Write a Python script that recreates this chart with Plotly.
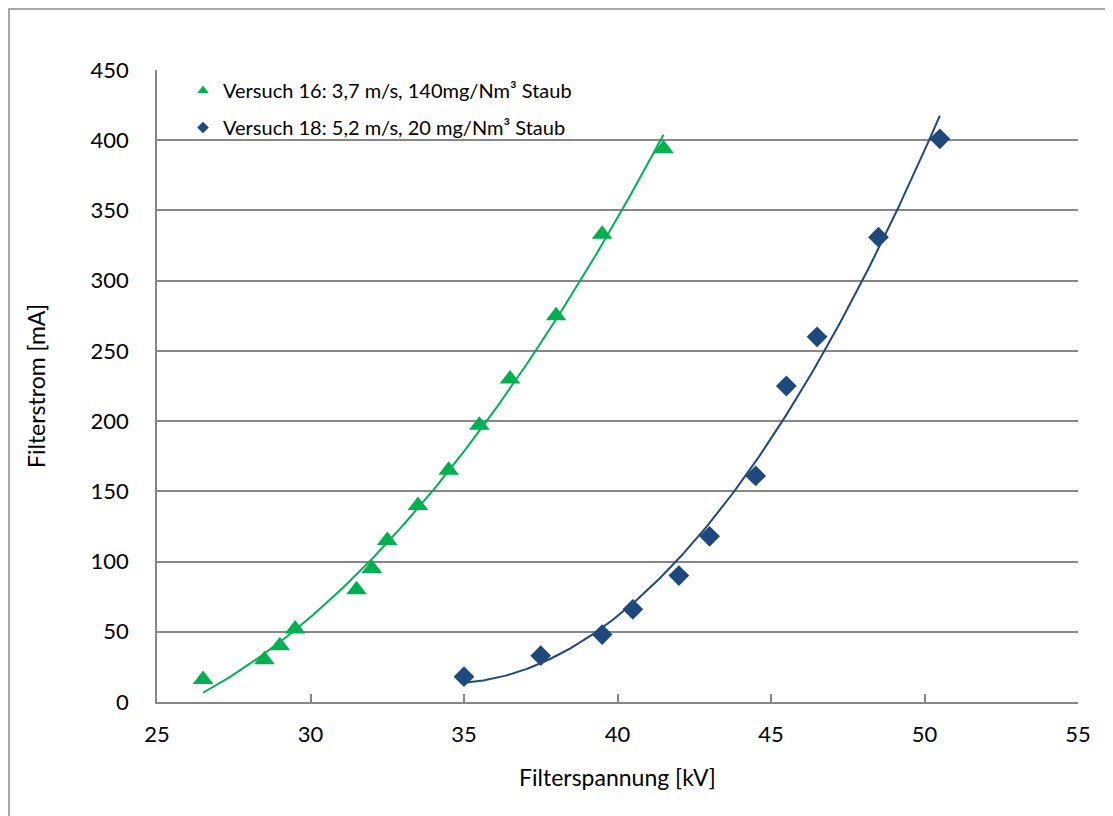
import numpy as np
import plotly.graph_objects as go

# Versuch 16
v16_kv = [26.5, 28.5, 29.0, 29.5, 31.5, 32.0, 32.5, 33.5, 34.5, 35.5, 36.5, 38.0, 39.5, 41.5]
v16_ma = [16, 30, 40, 52, 80, 95, 115, 140, 165, 197, 230, 275, 333, 394]
# Versuch 18
v18_kv = [35.0, 37.5, 39.5, 40.5, 42.0, 43.0, 44.5, 45.5, 46.5, 48.5, 50.5]
v18_ma = [18, 33, 48, 66, 90, 118, 161, 225, 260, 331, 401]

name16 = "Versuch 16: 3,7 m/s, 140mg/Nm³ Staub"
name18 = "Versuch 18: 5,2 m/s, 20 mg/Nm³ Staub"
green = "#00B050"
blue = "#1F497D"
FONT = "Lato, 'Open Sans', sans-serif"

W, H = 1113, 816
ml, mr, mt, mb = 149, 43, 62, 122
pw, ph = W - ml - mr, H - mt - mb

fig = go.Figure()

def trend(xs, ys, color):
    c = np.polyfit(xs, ys, 2)
    xx = np.linspace(min(xs), max(xs), 200)
    fig.add_trace(go.Scatter(x=xx, y=np.polyval(c, xx), mode="lines",
                             line=dict(color=color, width=2), showlegend=False,
                             hoverinfo="skip"))

trend(v16_kv, v16_ma, green)
trend(v18_kv, v18_ma, blue)

fig.add_trace(go.Scatter(x=v16_kv, y=v16_ma, mode="markers", name=name16, showlegend=False,
                         marker=dict(symbol="triangle-up", size=18, color=green)))
fig.add_trace(go.Scatter(x=v18_kv, y=v18_ma, mode="markers", name=name18, showlegend=False,
                         marker=dict(symbol="diamond", size=16, color=blue)))
# legend entries with small symbols
fig.add_trace(go.Scatter(x=[None], y=[None], mode="markers", name=name16, legendgroup="a",
                         marker=dict(symbol="triangle-up", size=10, color=green)))
fig.add_trace(go.Scatter(x=[None], y=[None], mode="markers", name=name18, legendgroup="b",
                         marker=dict(symbol="diamond", size=9, color=blue)))

grid = "#878787"
fig.update_xaxes(range=[25, 55], dtick=5, tick0=25, showgrid=False,
                 showline=True, linecolor=grid, linewidth=1.5,
                 ticks="inside", ticklen=8, tickcolor=grid, tickwidth=1.5,
                 tickfont=dict(size=22, color="#000"), ticklabelstandoff=12,
                 title=dict(text="Filterspannung [kV]", font=dict(size=23, color="#000"), standoff=24),
                 zeroline=False)
fig.update_yaxes(range=[0, 450], dtick=50, showgrid=True, gridcolor=grid, gridwidth=1.5,
                 showline=True, linecolor=grid, linewidth=1.5, ticks="",
                 tickfont=dict(size=22, color="#000"), ticklabelstandoff=22,
                 title=dict(text="Filterstrom [mA]", font=dict(size=23, color="#000"), standoff=39),
                 zeroline=False)

# outer chart border
fig.add_shape(type="rect", xref="paper", yref="paper",
              x0=(1 - ml) / pw, x1=(W + 20 - ml) / pw,
              y0=-(H + 20 - mt - ph) / ph, y1=1 + (mt - 1) / ph,
              line=dict(color="#8c8c8c", width=1.5), fillcolor="rgba(0,0,0,0)", layer="below")

fig.update_layout(
    width=W, height=H, margin=dict(l=ml, r=mr, t=mt, b=mb),
    plot_bgcolor="white", paper_bgcolor="white",
    font=dict(family=FONT, color="#000"),
    legend=dict(x=(175 - ml) / pw, y=1 - (63 - mt) / ph, xanchor="left", yanchor="top",
                bgcolor="rgba(0,0,0,0)", font=dict(size=20), itemwidth=30,
                tracegroupgap=8),
    showlegend=True,
)

fig.write_html("out.html")
